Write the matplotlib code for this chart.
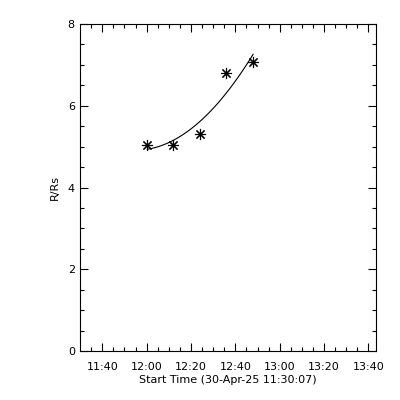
import numpy as np
import matplotlib
matplotlib.use("Agg")
import matplotlib.pyplot as plt
from matplotlib.ticker import FixedLocator, MultipleLocator

# Data
start_label = "11:30:07"
times = ["12:00:19", "12:11:43", "12:24:00", "12:36:00", "12:48:00"]
heights = [5.04, 5.04, 5.32, 6.81, 7.06]
xtick_labels = ["11:40", "12:00", "12:20", "12:40", "13:00", "13:20", "13:40"]
y_ticks = [0, 2, 4, 6, 8]


def to_sec(s):
    parts = [int(p) for p in s.split(":")]
    while len(parts) < 3:
        parts.append(0)
    return parts[0] * 3600 + parts[1] * 60 + parts[2]


t0 = to_sec(start_label)
x = np.array([to_sec(t) - t0 for t in times], dtype=float)
y = np.array(heights)
xticks = [to_sec(t) - t0 for t in xtick_labels]

fig = plt.figure(figsize=(4, 4), dpi=100)
ax = fig.add_axes([0.201, 0.1225, 0.739, 0.8175])

# quadratic fit
coef = np.polyfit(x, y, 2)
xf = np.linspace(x.min(), x.max(), 100)
ax.plot(xf, np.polyval(coef, xf), color="black", lw=0.8)
ax.plot(x, y, linestyle="none", marker=(8, 2, 0), markersize=8,
        markeredgewidth=0.8, color="black")

ax.set_xlim(0, 8000)
ax.set_ylim(0, 8)
ax.xaxis.set_major_locator(FixedLocator(xticks))
ax.set_xticklabels(xtick_labels)
minor_x = [v for v in np.arange(xticks[0] - 300, 8000, 300) if v > 0 and v not in xticks]
ax.xaxis.set_minor_locator(FixedLocator(minor_x))
ax.set_yticks(y_ticks)
ax.yaxis.set_minor_locator(MultipleLocator(0.5))

ax.tick_params(which="both", direction="in", top=True, right=True,
               labelsize=8, width=0.8, color="black")
ax.tick_params(which="major", length=6)
ax.tick_params(which="minor", length=3)
ax.tick_params(axis="x", which="major", pad=8)
ax.tick_params(axis="y", which="major", pad=4)
for sp in ax.spines.values():
    sp.set_linewidth(0.8)

ax.set_xlabel("Start Time (30-Apr-25 11:30:07)", fontsize=8, labelpad=2)
ax.set_ylabel("R/Rs", fontsize=8, labelpad=6)

fig.savefig("out.png", dpi=100)
